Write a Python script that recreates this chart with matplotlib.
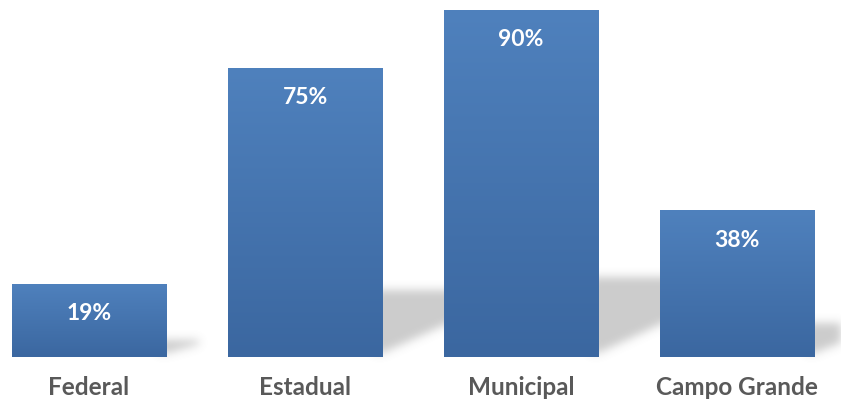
import numpy as np
import matplotlib
matplotlib.use("Agg")
import matplotlib.pyplot as plt
from matplotlib.path import Path
from matplotlib.colors import LinearSegmentedColormap

categories = ['Federal', 'Estadual', 'Municipal', 'Campo Grande']
values = [19, 75, 90, 38]
labels = ['19%', '75%', '90%', '38%']

W, H = 841, 403
XL, XR, YB, YT = -0.412, 3.481, -11.9, 92.5
fig = plt.figure(figsize=(W / 100, H / 100), dpi=100)
ax = fig.add_axes([0, 0, 1, 1])
ax.set_xlim(XL, XR)
ax.set_ylim(YB, YT)
ax.axis('off')

bar_w = 0.713
x = np.arange(len(categories))

# soft cast shadow to the right of each bar (drawn behind the bars)
px_x = (XR - XL) / W
px_y = (YT - YB) / H
mask = np.zeros((H, W))
gx, gy = np.meshgrid(np.arange(W) + 0.5, np.arange(H) + 0.5)
pts = np.column_stack([gx.ravel(), gy.ravel()])
base = YT / px_y
for xi, v in zip(x, values):
    xr = (xi + bar_w / 2 - XL) / px_x
    hp = v / px_y
    top = base - 0.23 * hp
    L = 0.45 * hp
    poly = Path([(xr - 8, top), (xr + L, top), (xr + L, top + 4),
                 (xr, base - 4), (xr - 8, base - 4)])
    mask = np.maximum(mask, poly.contains_points(pts).reshape(H, W))
k = np.exp(-0.5 * (np.arange(-15, 16) / 4.5) ** 2)
k /= k.sum()
mask = np.apply_along_axis(lambda r: np.convolve(r, k, mode='same'), 1, mask)
mask = np.apply_along_axis(lambda c: np.convolve(c, k, mode='same'), 0, mask)
shadow = np.zeros((H, W, 4))
shadow[..., :3] = 0.5
shadow[..., 3] = mask * 0.4
ax.imshow(shadow, extent=(XL, XR, YB, YT), origin='upper',
          aspect='auto', zorder=1, interpolation='bilinear')

cmap = LinearSegmentedColormap.from_list('bar', ['#3B67A0', '#4F81BD'])
grad = np.linspace(0, 1, 256).reshape(-1, 1)
bars = ax.bar(x, values, width=bar_w, color='none', edgecolor='none', zorder=2)
for b in bars:
    x0, y0, w, h = b.get_x(), b.get_y(), b.get_width(), b.get_height()
    im = ax.imshow(grad, extent=(x0, x0 + w, y0, y0 + h), origin='lower',
                   cmap=cmap, aspect='auto', zorder=2)
    im.set_clip_path(b)

for xi, v, lab in zip(x, values, labels):
    ax.text(xi, v - 7.8, lab, ha='center', va='center', color='white',
            fontsize=16.5, fontweight='bold', family='Lato', zorder=3)

for xi, c in zip(x, categories):
    ax.text(xi, -8.0, c, ha='center', va='center', color='#595959',
            fontsize=17.5, fontweight='bold', family='Lato', zorder=3)

fig.savefig('out.png', dpi=100)
